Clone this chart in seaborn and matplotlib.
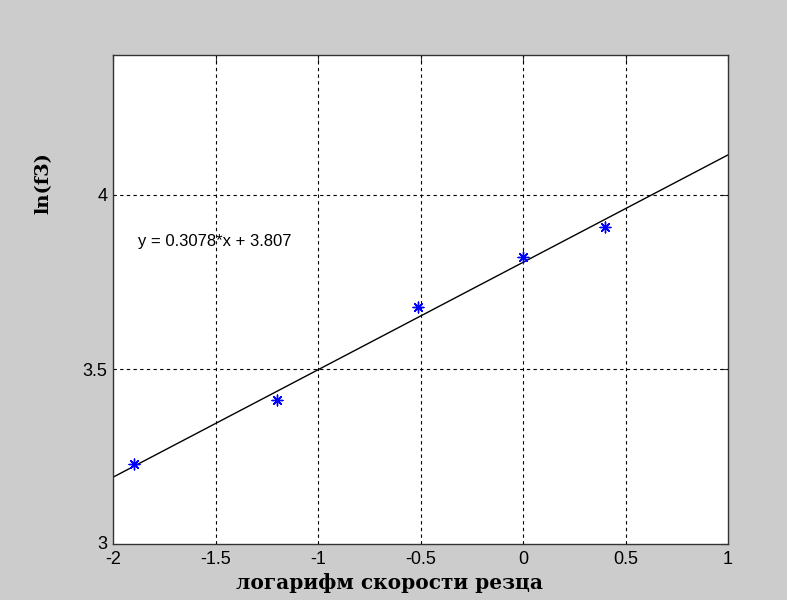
import numpy as np
import pandas as pd
import seaborn as sns
import matplotlib.pyplot as plt
from matplotlib.transforms import ScaledTranslation

# measured points
log_speed = [-1.9, -1.2, -0.51, 0.0, 0.4]
ln_f3 = [3.228, 3.413, 3.678, 3.821, 3.907]

# fitted line coefficients (as printed on the chart)
slope = 0.3078
intercept = 3.807
fit_x = [-2.0, 1.0]

x_ticks = [-2, -1.5, -1, -0.5, 0, 0.5, 1]
x_tick_labels = ['-2', '-1.5', '-1', '-0.5', '0', '0.5', '1']
y_ticks = [3, 3.5, 4]
y_tick_labels = ['3', '3.5', '4']

points = pd.DataFrame({'x': log_speed, 'y': ln_f3})
fit = pd.DataFrame({'x': fit_x, 'y': [slope * v + intercept for v in fit_x]})

sns.set_style('white')
plt.rcParams['font.family'] = ['Liberation Sans', 'DejaVu Sans']
plt.rcParams['text.color'] = 'black'
plt.rcParams['xtick.labelcolor'] = 'black'
plt.rcParams['ytick.labelcolor'] = 'black'

fig = plt.figure(figsize=(7.87, 6), dpi=100, facecolor='#cccccc')
ax = fig.add_axes([0.1436, 0.0933, 0.7815, 0.8145])
ax.set_facecolor('white')

sns.lineplot(data=fit, x='x', y='y', color='black', lw=1, ax=ax)
sns.scatterplot(data=points, x='x', y='y', marker=(8, 2, 0), s=60,
                color='blue', edgecolor='blue', linewidth=1, ax=ax, zorder=3)

ax.set_xlim(-2, 1)
ax.set_ylim(3, 4.4)
ax.set_xticks(x_ticks)
ax.set_xticklabels(x_tick_labels)
ax.set_yticks(y_ticks)
ax.set_yticklabels(y_tick_labels)
ax.tick_params(direction='in', length=5, width=0.8, color='#333333',
               labelsize=13, top=True, right=True, pad=4)
ax.tick_params(axis='x', pad=5)
# nudge the "3" up a couple of pixels so it clears the "-2"
lab3 = ax.get_yticklabels()[0]
lab3.set_transform(lab3.get_transform()
                   + ScaledTranslation(0, 2 / 100, fig.dpi_scale_trans))

for v in x_ticks[1:-1]:
    ax.axvline(v, color='black', lw=0.8, ls=(0, (3, 3)), zorder=1)
for v in y_ticks[1:]:
    ax.axhline(v, color='black', lw=0.8, ls=(0, (3, 3)), zorder=1)

for s in ax.spines.values():
    s.set_visible(True)
    s.set_color('#333333')
    s.set_linewidth(1)

ax.text(-1.878, 3.866, f'y = {slope}*x + {intercept}', fontsize=12,
        va='center', ha='left', color='black')

ax.set_xlabel('логарифм скорости резца', family='DejaVu Serif',
              fontsize=14.5, fontweight='bold', color='black')
ax.set_ylabel('ln(f3)', family='DejaVu Serif', fontsize=14,
              fontweight='bold', color='black')
ax.xaxis.set_label_coords(0.45, -0.06)
ax.yaxis.set_label_coords(-0.098, 0.739)

fig.savefig('out.png', dpi=100, facecolor=fig.get_facecolor())
